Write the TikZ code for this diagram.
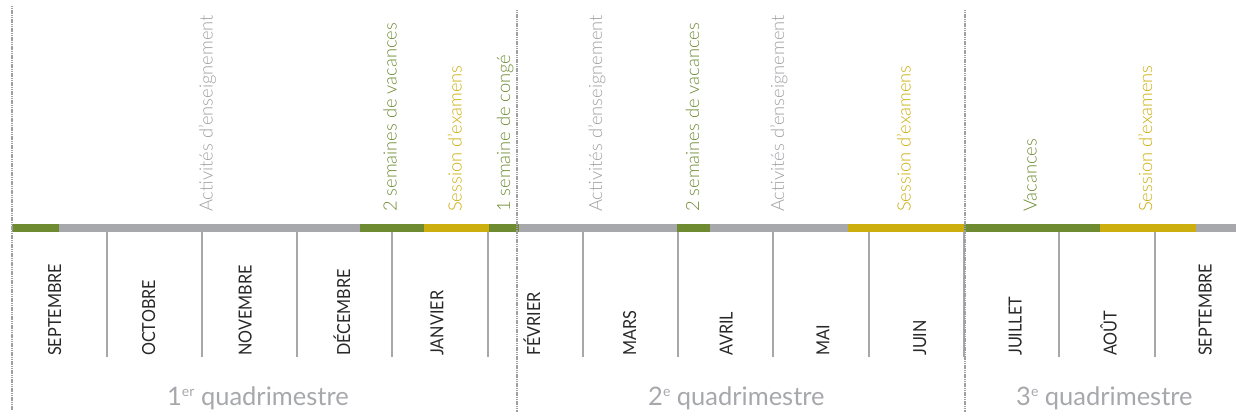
\documentclass[tikz,border=0pt]{standalone}
\usepackage{fontspec}
\setmainfont{Lato}
\newfontfamily\lightfont{Lato Light}
\newfontfamily\monthfont{Lato}[FakeStretch=0.9]
\definecolor{cgreen}{RGB}{110,139,50}
\definecolor{cyellow}{RGB}{204,174,14}
\definecolor{cgrey}{RGB}{167,168,172}
\definecolor{csep}{RGB}{158,159,163}
\definecolor{clight}{RGB}{160,160,164}
\definecolor{cmonth}{RGB}{40,40,40}
\newcommand{\supr}[1]{\raisebox{9pt}{\fontsize{14}{14}\selectfont #1}}
\begin{document}
\begin{tikzpicture}[x=1pt,y=-1pt,
  monthtick/.style={draw=cgrey, line width=2.3pt},
  sepline/.style={draw=csep, line width=2.4pt, dash pattern=on 1.2pt off 0.6pt},
  toplabel/.style={rotate=90, anchor=base west, inner sep=0pt, font=\lightfont\fontsize{18.3}{18.3}\selectfont},
  monthlabel/.style={rotate=90, anchor=base west, inner sep=0pt, text=cmonth, font=\monthfont\fontsize{18}{18}\selectfont},
  quadlabel/.style={anchor=base west, inner sep=0pt, text=cgrey, font=\fontsize{25.5}{25.5}\selectfont}]
\useasboundingbox (0,0) rectangle (1236,419);
% timeline bar
\fill[cgreen]  (12,224)   rectangle (59,232);
\fill[cgrey]   (59,224)   rectangle (360,232);
\fill[cgreen]  (360,224)  rectangle (424,232);
\fill[cyellow] (424,224)  rectangle (489,232);
\fill[cgreen]  (489,224)  rectangle (519,232);
\fill[cgrey]   (519,224)  rectangle (677,232);
\fill[cgreen]  (677,224)  rectangle (710,232);
\fill[cgrey]   (710,224)  rectangle (848,232);
\fill[cyellow] (848,224)  rectangle (964,232);
\fill[cgreen]  (964,224)  rectangle (1100,232);
\fill[cyellow] (1100,224) rectangle (1196,232);
\fill[cgrey]   (1196,224) rectangle (1236,232);
% month ticks
\foreach \x in {107,202,297,392,488,583,678,773,869,964,1059,1155}
  \draw[monthtick] (\x,232) -- (\x,357);
% quadrimester separators
\draw[sepline] (12,6) -- (12,410);
\draw[sepline] (517,10) -- (517,412);
\draw[sepline] (965,10) -- (965,412);
% period labels
\node[toplabel, text=clight]  (act1) at (212.7,212) {Activités d’enseignement};
\node[toplabel, text=cgreen]  (vac1) at (396.5,212) {2 semaines de vacances};
\node[toplabel, text=cyellow] (exa1) at (461.7,212) {Session d’examens};
\node[toplabel, text=cgreen]  (cong) at (510,212) {1 semaine de congé};
\node[toplabel, text=clight]  (act2) at (602,212) {Activités d’enseignement};
\node[toplabel, text=cgreen]  (vac2) at (699,212) {2 semaines de vacances};
\node[toplabel, text=clight]  (act3) at (784,212) {Activités d’enseignement};
\node[toplabel, text=cyellow] (exa2) at (910.7,212) {Session d’examens};
\node[toplabel, text=cgreen]  (vac3) at (1036.7,212) {Vacances};
\node[toplabel, text=cyellow] (exa3) at (1152,212) {Session d’examens};
% months
\node[monthlabel] (sep1) at (61,356)     {SEPTEMBRE};
\node[monthlabel] (oct)  at (155,356)    {OCTOBRE};
\node[monthlabel] (nov)  at (251.7,356)  {NOVEMBRE};
\node[monthlabel] (dec)  at (350,356)    {DÉCEMBRE};
\node[monthlabel] (jan)  at (443.3,356)  {JANVIER};
\node[monthlabel] (feb)  at (540,356)    {FÉVRIER};
\node[monthlabel] (mar)  at (636,356)    {MARS};
\node[monthlabel] (apr)  at (732.7,356)  {AVRIL};
\node[monthlabel] (may)  at (829.3,356)  {MAI};
\node[monthlabel] (jun)  at (926,356)    {JUIN};
\node[monthlabel] (jul)  at (1021.7,356) {JUILLET};
\node[monthlabel] (aug)  at (1116.7,356) {AOÛT};
\node[monthlabel] (sep2) at (1211.7,356) {SEPTEMBRE};
% quadrimesters
\node[quadlabel] (q1) at (167,405)  {1\supr{er} quadrimestre};
\node[quadlabel] (q2) at (648,405)  {2\supr{e} quadrimestre};
\node[quadlabel] (q3) at (1016,405) {3\supr{e} quadrimestre};
\end{tikzpicture}
\end{document}
